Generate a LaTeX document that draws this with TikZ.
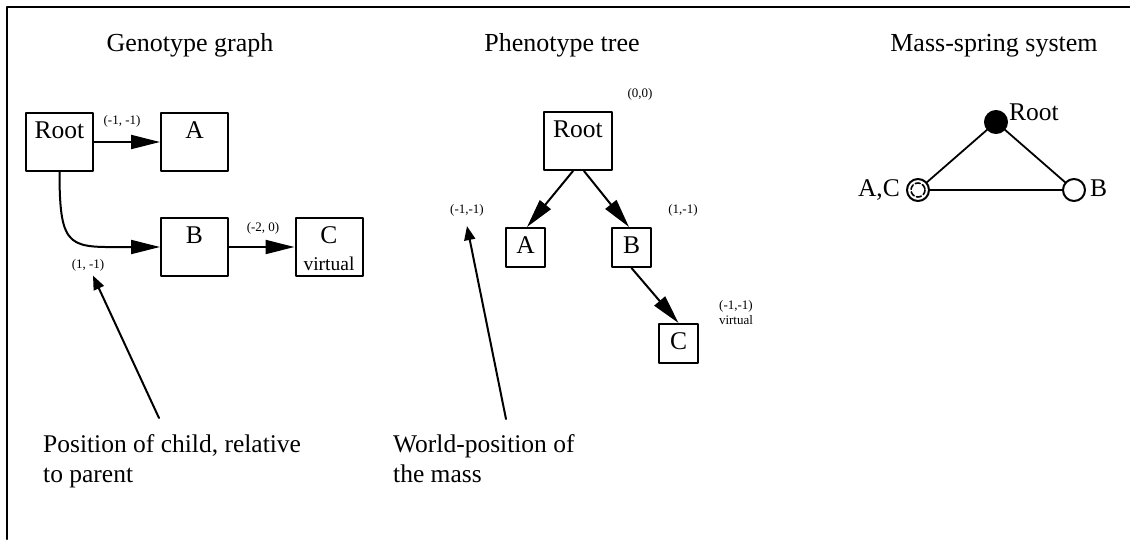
\documentclass[tikz,border=0pt]{standalone}
\usepackage{fontspec}
\setmainfont{Liberation Serif}
\usetikzlibrary{arrows.meta}

\tikzset{
  bigbox/.style={draw,rectangle,line width=2pt,inner sep=0pt,minimum width=67pt,
    text height=25pt,text depth=33pt,font=\fontsize{25.5}{30}\selectfont},
  smallbox/.style={draw,rectangle,line width=2pt,inner sep=0pt,minimum width=39pt,
    text height=25pt,text depth=14pt,font=\fontsize{25.5}{30}\selectfont},
  link/.style={line width=2pt,-{Triangle[length=29pt,width=14pt]}},
  pointer/.style={line width=2pt,-{Triangle[length=14pt,width=11pt]}},
  spring/.style={line width=1.8pt},
  mass/.style={draw,circle,line width=2pt,minimum size=22pt,inner sep=0pt,fill=white},
  coord/.style={font=\fontsize{13}{15}\selectfont,inner sep=1pt},
  title/.style={font=\fontsize{26}{30}\selectfont,inner sep=0pt},
  caption/.style={font=\fontsize{25.5}{30}\selectfont,inner sep=0pt,align=left},
  plain/.style={font=\fontsize{25.5}{30}\selectfont,inner sep=0pt}
}

\begin{document}
\begin{tikzpicture}[x=1pt,y=-1pt,line cap=round,line join=round]
  \useasboundingbox (0,0) rectangle (1130,539);
  \draw[line width=2pt] (7,539) -- (7,7) -- (1130,7);

  % genotype graph
  \node[title,anchor=base] (tGeno) at (190,51) {Genotype graph};
  \node[bigbox] (gRoot) at (59.5,142) {Root};
  \node[bigbox] (gA) at (194.5,142) {A};
  \node[bigbox] (gB) at (194.5,247) {B};
  \node[bigbox] (gC) at (329,247) {C};
  \node[font=\fontsize{19.5}{22}\selectfont,inner sep=0pt,anchor=base] (gCv)
    at ([yshift=-27pt]gC.base) {virtual};
  \draw[link] (gRoot) -- (gA);
  \draw[link] (gRoot.south) .. controls +(0,80) and +(-90,0) .. (gB.west);
  \draw[link] (gB) -- (gC);
  \node[coord] (gl1) at (122,121) {(-1, -1)};
  \node[coord] (gl2) at (263,228) {(-2, 0)};
  \node[coord] (gl3) at (88,265) {(1, -1)};

  % phenotype tree
  \node[title,anchor=base] (tPheno) at (562,51) {Phenotype tree};
  \node[bigbox,minimum width=68pt] (pRoot) at (578,141) {Root};
  \node[smallbox] (pA) at (525.5,247.5) {A};
  \node[smallbox] (pB) at (631.5,247.5) {B};
  \node[smallbox] (pC) at (678.5,343.5) {C};
  \draw[link] ([xshift=-5pt]pRoot.south) -- ([xshift=1.5pt]pA.north);
  \draw[link] ([xshift=6pt]pRoot.south) -- ([xshift=-2.5pt]pB.north);
  \draw[link] (pB.south) -- (pC.north);
  \node[coord] (pl0) at (640,94) {(0,0)};
  \node[coord] (pl1) at (467,210) {(-1,-1)};
  \node[coord] (pl2) at (683,210) {(1,-1)};
  \node[coord,align=center] (pl3) at (736,313) {(-1,-1)\\virtual};

  % mass-spring system
  \node[title,anchor=base] (tMass) at (994,51) {Mass-spring system};
  \node[mass,fill=black] (mRoot) at (996,122) {};
  \node[mass] (mAC) at (918,190) {};
  \node[mass] (mB) at (1074,190) {};
  \draw[line width=1.6pt,dash pattern=on 5pt off 2.5pt] (mAC.center) circle (7);
  \draw[spring] (mRoot) -- (mAC);
  \draw[spring] (mRoot) -- (mB);
  \draw[spring] (mAC) -- (mB);
  \node[plain,anchor=base west] (mRootT) at (1009,120) {Root};
  \node[plain,anchor=base east] (mACT) at (900,196) {A,C};
  \node[plain,anchor=base west] (mBT) at (1090,196) {B};

  % notes
  \node[caption,anchor=north west] (nGeno) at (43,434) {Position of child, relative\\to parent};
  \node[caption,anchor=north west] (nPheno) at (393,434) {World-position of\\the mass};
  \coordinate (gTail) at (159,418);
  \coordinate (pTail) at (506,419);
  \draw[pointer] (gTail) -- ([xshift=5pt,yshift=-3.5pt]gl3.south);
  \draw[pointer] (pTail) -- ([yshift=-9pt]pl1.south);
\end{tikzpicture}
\end{document}
